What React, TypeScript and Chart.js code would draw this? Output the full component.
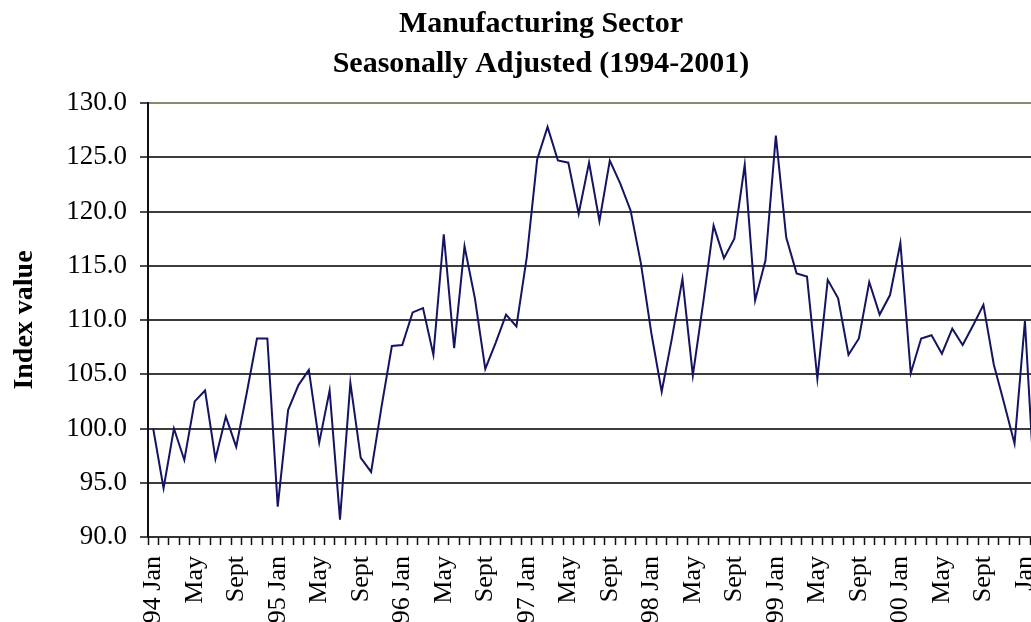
import React, { useEffect, useRef } from 'react';
import { Chart, registerables } from 'chart.js';

Chart.register(...registerables);

// ---- data ----
// year prefixes shown on the January labels (the 2001 label reads just "Jan")
const yearPrefixes = ['94', '95', '96', '97', '98', '99', '00', ''];
const monthNames = ['Jan', 'Feb', 'Mar', 'Apr', 'May', 'Jun', 'Jul', 'Aug', 'Sept', 'Oct', 'Nov', 'Dec'];
const visibleMonthCount = 90; // 94 Jan .. 01 Jun (axis runs past the right edge)

const index1994 = [100.0, 94.5, 100.0, 97.1, 102.5, 103.5, 97.2, 101.1, 98.3, 103.2, 108.3, 108.3];
const index1995 = [92.8, 101.7, 104.0, 105.4, 98.7, 103.5, 91.6, 104.2, 97.3, 96.0, 102.0, 107.6];
const index1996 = [107.7, 110.7, 111.1, 106.8, 117.9, 107.4, 116.8, 112.0, 105.5, 107.9, 110.5, 109.4];
const index1997 = [115.8, 124.8, 127.8, 124.7, 124.5, 119.8, 124.5, 119.1, 124.7, 122.6, 120.1, 115.2];
const index1998 = [108.8, 103.4, 108.4, 113.8, 104.9, 111.6, 118.7, 115.7, 117.5, 124.3, 111.8, 115.5];
const index1999 = [127.0, 117.6, 114.3, 114.0, 104.6, 113.7, 112.0, 106.8, 108.3, 113.5, 110.5, 112.3];
const index2000 = [117.1, 105.1, 108.3, 108.6, 106.9, 109.2, 107.7, 109.5, 111.4, 105.9, 102.3, 98.6];
const index2001 = [109.9, 93.3];

const yTicks = [90, 95, 100, 105, 110, 115, 120, 125, 130];

const categories: string[] = yearPrefixes
  .flatMap((y) => monthNames.map((m) => (m === 'Jan' ? `${y} Jan`.trim() : m)))
  .slice(0, visibleMonthCount);

const seriesValues: (number | null)[] = [
  ...index1994, ...index1995, ...index1996, ...index1997,
  ...index1998, ...index1999, ...index2000, ...index2001,
];
while (seriesValues.length < categories.length) seriesValues.push(null);

const FONT = 'Liberation Serif';

export default function App() {
  const ref = useRef<HTMLCanvasElement | null>(null);

  useEffect(() => {
    if (!ref.current) return;
    const chart = new Chart(ref.current, {
      type: 'line',
      data: {
        labels: categories,
        datasets: [
          {
            label: 'Index value',
            data: seriesValues,
            borderColor: '#141462',
            borderWidth: 2,
            pointRadius: 0,
            tension: 0,
            fill: false,
          },
        ],
      },
      options: {
        responsive: false,
        animation: false,
        layout: { padding: 0 },
        plugins: {
          legend: { display: false },
          tooltip: { enabled: false },
          title: {
            display: true,
            text: ['Manufacturing Sector', 'Seasonally Adjusted (1994-2001)'],
            color: '#000',
            font: { family: FONT, size: 30, weight: 'bold', lineHeight: '40px' },
            padding: { top: 4, bottom: 19 },
          },
        },
        scales: {
          x: {
            type: 'category',
            offset: true,
            grid: {
              display: true,
              offset: true,
              drawOnChartArea: false,
              drawTicks: true,
              tickLength: 8,
              tickColor: '#111',
              tickWidth: 1.5,
            },
            border: { display: true, color: '#333', width: 2 },
            ticks: {
              autoSkip: false,
              minRotation: 90,
              maxRotation: 90,
              padding: 11,
              color: '#000',
              font: { family: FONT, size: 26 },
              callback: (_v: any, i: number) => (i % 4 === 0 ? categories[i] : ''),
            },
            afterFit: (scale: any) => {
              scale.height = 113;
              scale.paddingLeft = 0;
              scale.paddingRight = 0;
            },
          },
          y: {
            min: 90,
            max: 130,
            afterBuildTicks: (scale: any) => {
              scale.ticks = yTicks.map((v) => ({ value: v }));
            },
            grid: {
              color: (ctx: any) => (ctx.tick && ctx.tick.value === 130 ? '#8b8b6c' : '#3c3c3c'),
              lineWidth: 2,
              drawTicks: true,
              tickLength: 8,
              tickColor: '#111',
              tickWidth: 1.5,
            },
            border: { display: true, color: '#111', width: 2 },
            ticks: {
              padding: 13,
              color: '#000',
              font: { family: FONT, size: 27 },
              callback: (v: any) => Number(v).toFixed(1),
            },
            title: {
              display: true,
              text: 'Index value',
              color: '#000',
              font: { family: FONT, size: 28, weight: 'bold' },
              padding: { top: 8, bottom: 0 },
            },
            afterFit: (scale: any) => {
              scale.width = 148;
              scale.paddingTop = 0;
              scale.paddingBottom = 0;
            },
          },
        },
      },
    });
    return () => chart.destroy();
  }, []);

  return (
    <div
      style={{
        position: 'fixed',
        left: 0,
        top: 0,
        width: '100vw',
        height: '100vh',
        overflow: 'hidden',
        background: '#fff',
      }}
    >
      <canvas ref={ref} width={1082} height={650} style={{ display: 'block', width: 1082, height: 650 }} />
    </div>
  );
}
